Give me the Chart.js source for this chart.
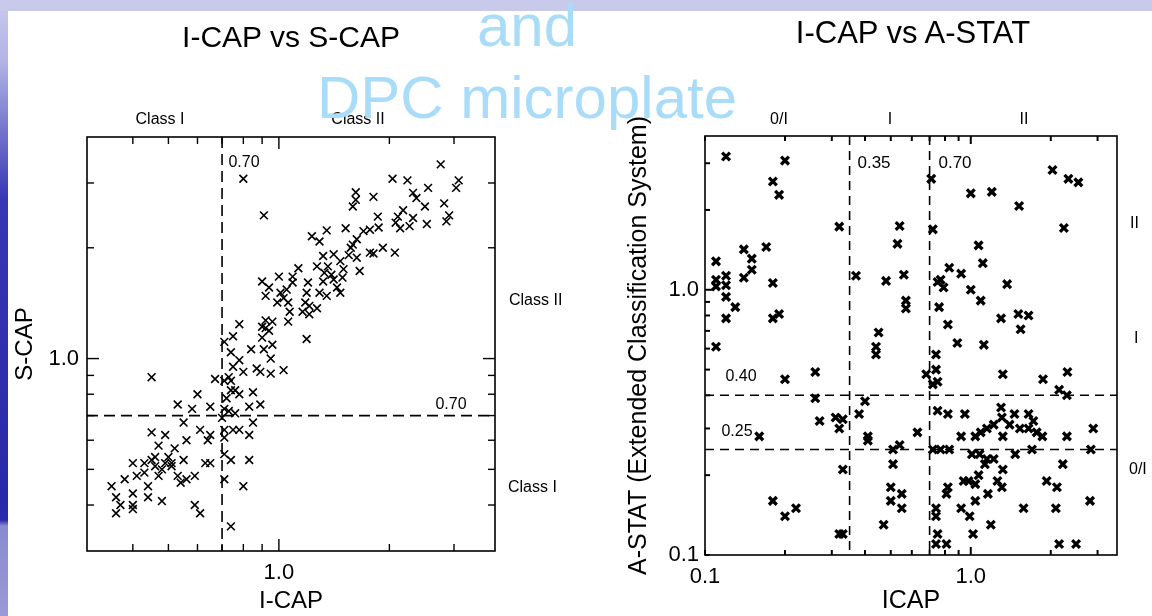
<!DOCTYPE html>
<html>
<head>
<meta charset="utf-8">
<script src="https://cdn.jsdelivr.net/npm/chart.js"></script>
<style>
html, body { margin: 0; padding: 0; }
body { width: 1152px; height: 616px; position: relative; overflow: hidden; background: #fff;
  font-family: "Liberation Sans", Arial, sans-serif; color: #000; }
#band { position: absolute; left: 0; top: 0; width: 1152px; height: 11px; background: #c9c9ec; z-index: 2; }
#strip { position: absolute; left: 0; top: 0; width: 8px; height: 616px; z-index: 1;
  background: linear-gradient(to bottom, #c8c8ee 0px, #b4b4e6 60px, #3636b6 200px, #2828aa 500px, #2a2aac 520px, #8a8ad0 526px, #9a9ad6 616px); }
.panel { position: absolute; top: 0; width: 576px; height: 616px; }
.t { position: absolute; white-space: nowrap; line-height: 1; transform: translate(-50%, -50%); }
.r { position: absolute; white-space: nowrap; line-height: 1; transform: translate(0, -50%); }
.title { font-size: 30px; }
.small { font-size: 16px; }
.over { position: absolute; white-space: nowrap; line-height: 1; transform: translate(-50%, -50%);
  font-size: 60px; color: #a9dcf8; z-index: 5; }
</style>
</head>
<body>
<div id="strip"></div>
<div id="band"></div>

<div class="panel" style="left:0"><canvas id="left" width="576" height="616"></canvas></div>
<div class="panel" style="left:576px"><canvas id="right" width="576" height="616"></canvas></div>

<div class="t title" style="left:291px;top:37px">I-CAP vs S-CAP</div>
<div class="t title" style="left:913px;top:32px;font-size:31px">I-CAP vs A-STAT</div>

<div class="t small" style="left:160px;top:119px">Class I</div>
<div class="t small" style="left:358px;top:119px">Class II</div>
<div class="t small" style="left:244px;top:162px">0.70</div>
<div class="t small" style="left:451px;top:404px">0.70</div>
<div class="r small" style="left:509px;top:300px">Class II</div>
<div class="r small" style="left:508px;top:487px">Class I</div>

<div class="t small" style="left:779px;top:119px">0/I</div>
<div class="t small" style="left:890px;top:119px">I</div>
<div class="t small" style="left:1024px;top:119px">II</div>
<div class="t small" style="left:874px;top:162px;font-size:17px">0.35</div>
<div class="t small" style="left:955px;top:162px;font-size:17px">0.70</div>
<div class="t small" style="left:741px;top:376px">0.40</div>
<div class="t small" style="left:737px;top:431px">0.25</div>
<div class="r small" style="left:1130px;top:223px">II</div>
<div class="r small" style="left:1134px;top:338px">I</div>
<div class="r small" style="left:1129px;top:469px">0/I</div>

<div class="over" style="left:527px;top:26px">and</div>
<div class="over" style="left:527px;top:98px">DPC microplate</div>

<script>
// I-CAP vs S-CAP
var leftIcap = [0.80,0.91,2.76,2.04,2.24,3.09,3.04,2.55,2.32,2.37,1.62,1.62,1.59,1.81,2.50,2.82,1.86,2.18,2.11,2.32,
  2.91,2.86,2.08,2.14,2.27,2.53,1.77,1.87,1.70,1.52,1.35,1.23,1.29,1.63,1.59,1.57,1.81,1.92,2.07,1.77,
  1.55,1.63,1.66,1.32,1.41,1.47,1.27,1.36,1.33,1.39,1.50,1.49,1.13,1.09,1.00,0.90,0.94,0.92,1.01,1.05,
  1.03,0.99,1.06,1.09,1.20,1.19,1.29,1.32,1.41,1.44,1.47,1.35,1.18,1.21,1.16,1.27,1.21,1.07,1.06,0.96,
  0.92,0.92,0.94,0.90,0.78,0.75,0.71,0.90,1.19,
  0.74,0.84,0.91,0.96,0.95,0.78,0.75,0.80,0.87,0.89,0.95,1.03,0.45,0.67,0.71,0.73,0.74,0.60,0.74,0.76,
  0.78,0.72,0.85,0.89,0.83,0.53,0.58,0.65,0.71,0.73,0.76,0.70,0.55,0.71,0.75,0.78,0.85,0.83,0.45,0.49,
  0.56,0.61,0.65,0.64,0.71,0.47,0.46,0.43,0.45,0.50,0.52,0.49,0.51,0.48,0.51,0.55,0.53,0.54,0.56,0.59,
  0.63,0.65,0.71,0.74,0.83,0.71,0.80,0.74,0.40,0.43,0.41,0.38,0.35,0.44,0.36,0.40,0.37,0.36,0.40,0.40,
  0.44,0.48,0.59,0.61,0.46,0.47];
var leftScap = [3.08,2.45,3.37,3.08,3.05,3.05,2.91,2.91,2.82,2.73,2.83,2.70,2.59,2.75,2.59,2.64,2.43,2.53,2.43,2.41,
  2.45,2.36,2.34,2.26,2.29,2.32,2.24,2.27,2.22,2.26,2.23,2.15,2.08,2.11,2.04,2.00,1.93,2.00,1.94,1.94,
  1.91,1.88,1.73,1.90,1.92,1.84,1.78,1.78,1.71,1.69,1.75,1.66,1.76,1.67,1.67,1.62,1.56,1.48,1.51,1.54,
  1.46,1.42,1.42,1.61,1.61,1.51,1.51,1.62,1.64,1.56,1.51,1.48,1.42,1.39,1.34,1.37,1.32,1.34,1.26,1.26,
  1.27,1.21,1.19,1.22,1.24,1.15,1.11,1.14,1.13,
  1.04,1.06,1.06,1.09,1.00,0.99,0.95,0.92,0.94,0.92,0.91,0.93,0.89,0.88,0.87,0.89,0.87,0.80,0.82,0.82,
  0.80,0.78,0.81,0.75,0.74,0.75,0.73,0.74,0.73,0.72,0.71,0.69,0.67,0.64,0.64,0.64,0.67,0.62,0.63,0.62,
  0.60,0.64,0.62,0.60,0.61,0.58,0.54,0.52,0.53,0.54,0.57,0.52,0.51,0.50,0.52,0.53,0.48,0.46,0.47,0.48,
  0.52,0.52,0.55,0.53,0.53,0.47,0.45,0.35,0.52,0.49,0.48,0.47,0.45,0.45,0.42,0.43,0.40,0.38,0.40,0.39,
  0.42,0.41,0.40,0.38,0.51,0.48];

// I-CAP vs A-STAT
var rightIcap = [0.12,0.20,0.18,0.19,0.32,0.54,0.53,0.14,0.17,0.15,0.11,0.15,0.14,0.12,0.12,0.11,0.11,0.12,0.13,0.12,
  0.18,0.18,0.19,0.37,0.48,0.56,0.57,0.57,0.45,2.03,2.33,2.54,1.00,1.20,1.52,2.24,1.07,1.11,0.83,0.92,
  0.75,0.79,0.77,1.00,1.09,1.37,1.30,1.51,1.65,1.54,0.76,0.82,0.72,0.71,
  0.11,0.44,0.44,0.74,0.89,1.12,0.26,0.20,0.68,0.74,0.75,0.72,1.32,1.87,2.31,2.15,2.30,0.26,0.40,0.31,
  0.33,0.38,0.27,0.32,0.16,0.41,0.41,0.63,0.75,0.82,0.95,1.30,1.46,1.65,1.72,1.31,1.22,1.15,1.09,1.04,
  0.92,1.32,1.40,1.53,1.65,1.77,1.86,2.30,2.89,0.51,0.54,0.51,0.72,0.77,0.83,1.01,1.08,1.15,1.22,1.13,
  1.47,1.70,2.83,0.33,2.22,1.32,0.50,0.55,0.50,0.55,0.47,0.94,0.98,1.04,1.07,1.26,1.31,1.16,0.82,0.81,
  1.04,0.92,0.99,1.19,1.58,1.93,2.11,2.09,2.81,0.74,0.74,0.75,0.74,0.81,1.02,0.32,0.33,0.18,0.20,0.22,
  2.15,2.49];
var rightAstat = [3.18,3.07,2.56,2.28,1.73,1.74,1.49,1.42,1.45,1.31,1.28,1.19,1.11,1.13,1.04,1.09,1.03,0.94,0.86,0.78,
  1.06,0.78,0.81,1.13,1.08,1.14,0.91,0.85,0.69,2.83,2.62,2.54,2.31,2.34,2.07,1.71,1.47,1.26,1.21,1.15,
  1.07,1.02,1.09,1.00,0.91,1.05,0.78,0.81,0.80,0.71,0.86,0.74,1.69,2.62,
  0.61,0.61,0.57,0.57,0.63,0.62,0.49,0.46,0.48,0.50,0.45,0.44,0.48,0.46,0.49,0.42,0.40,0.39,0.38,0.33,
  0.325,0.34,0.32,0.30,0.28,0.28,0.27,0.29,0.35,0.34,0.34,0.36,0.34,0.34,0.32,0.33,0.31,0.30,0.29,0.28,
  0.28,0.28,0.31,0.30,0.30,0.29,0.28,0.28,0.30,0.25,0.26,0.22,0.25,0.25,0.25,0.24,0.24,0.23,0.23,0.22,
  0.24,0.25,0.25,0.21,0.22,0.21,0.18,0.17,0.16,0.15,0.13,0.19,0.19,0.185,0.20,0.19,0.18,0.17,0.18,0.17,
  0.16,0.15,0.14,0.13,0.15,0.19,0.18,0.15,0.16,0.15,0.14,0.12,0.11,0.11,0.12,0.12,0.12,0.16,0.14,0.15,
  0.11,0.11];

// axis ticks (log scales) and the ones that carry a label
var leftTicks = [0.4, 0.5, 0.6, 0.7, 0.8, 0.9, 1, 2, 3];
var leftTickLabels = [1];
var rightTicks = [0.1, 0.2, 0.3, 0.4, 0.5, 0.6, 0.7, 0.8, 0.9, 1, 2, 3];
var rightTickLabels = [0.1, 1];

// cut-off lines
var leftCutX = [0.7];
var leftCutY = [0.7];
var rightCutX = [0.35, 0.7];
var rightCutY = [0.25, 0.4];

var FONT = '"Liberation Sans", Arial, sans-serif';

// dashed cut-offs, box and inside tick marks
var framePlugin = {
  id: 'frame',
  beforeDatasetsDraw: function(chart, args, o) {
    var ctx = chart.ctx, a = chart.chartArea, x = chart.scales.x, y = chart.scales.y;
    function seg(x1, y1, x2, y2) { ctx.beginPath(); ctx.moveTo(x1, y1); ctx.lineTo(x2, y2); ctx.stroke(); }
    ctx.save();
    ctx.strokeStyle = '#000';
    ctx.lineWidth = o.dashWidth;
    ctx.setLineDash(o.dash);
    o.cutX.forEach(function(v) { var p = x.getPixelForValue(v); seg(p, a.top, p, a.bottom); });
    o.cutY.forEach(function(v) { var p = y.getPixelForValue(v); seg(a.left, p, a.right, p); });
    ctx.setLineDash([]);
    ctx.lineWidth = o.frameWidth;
    ctx.strokeRect(a.left, a.top, a.right - a.left, a.bottom - a.top);
    ctx.lineWidth = o.tickWidth;
    x.ticks.forEach(function(t) {
      var p = x.getPixelForValue(t.value), len = t.value === 1 ? o.major : o.minor;
      if (o.sides.indexOf('top') >= 0) seg(p, a.top, p, a.top + len);
      if (o.sides.indexOf('bottom') >= 0) seg(p, a.bottom, p, a.bottom - len);
    });
    y.ticks.forEach(function(t) {
      var p = y.getPixelForValue(t.value), len = t.value === 1 ? o.major : o.minor;
      if (o.sides.indexOf('left') >= 0) seg(a.left, p, a.left + len, p);
      if (o.sides.indexOf('right') >= 0) seg(a.right, p, a.right - len, p);
    });
    ctx.restore();
  }
};

function logAxis(min, max, ticks, labels, size, pad, title, titleSize, titlePad) {
  return {
    type: 'logarithmic',
    min: min,
    max: max,
    afterBuildTicks: function(s) { s.ticks = ticks.map(function(v) { return { value: v }; }); },
    afterFit: function(s) { if (s.isHorizontal()) s.height = size; else s.width = size; },
    ticks: {
      autoSkip: false, maxRotation: 0, padding: pad, color: '#000',
      font: { family: FONT, size: 22 },
      callback: function(v) { return labels.indexOf(v) >= 0 ? v.toFixed(1) : ''; }
    },
    grid: { display: false, drawTicks: false },
    border: { display: false },
    title: { display: true, text: title, color: '#000', font: { family: FONT, size: titleSize }, padding: titlePad }
  };
}

function pairs(xs, ys) { return xs.map(function(v, i) { return { x: v, y: ys[i] }; }); }

new Chart(document.getElementById('left'), {
  type: 'scatter',
  data: { datasets: [{
    data: pairs(leftIcap, leftScap),
    pointStyle: 'crossRot', pointRadius: 5.5, pointBorderWidth: 1.6,
    borderColor: '#000', backgroundColor: '#000'
  }] },
  options: {
    responsive: false, animation: false,
    layout: { padding: { top: 137, right: 81, left: 0, bottom: 0 } },
    plugins: {
      legend: { display: false }, tooltip: { enabled: false },
      frame: { cutX: leftCutX, cutY: leftCutY, dash: [11, 6], dashWidth: 1.6, frameWidth: 1.6, tickWidth: 1.4,
        minor: 7, major: 12, sides: ['top', 'bottom', 'left', 'right'] }
    },
    scales: {
      x: logAxis(0.3, 3.88, leftTicks, leftTickLabels, 65, 9, 'I-CAP', 24, { top: 0, bottom: 0 }),
      y: logAxis(0.3, 4.0, leftTicks, leftTickLabels, 87, 8, 'S-CAP', 24, { top: 11, bottom: 0 })
    }
  },
  plugins: [framePlugin]
});

new Chart(document.getElementById('right'), {
  type: 'scatter',
  data: { datasets: [{
    data: pairs(rightIcap, rightAstat),
    pointStyle: 'crossRot', pointRadius: 5.5, pointBorderWidth: 3.3,
    borderColor: '#000', backgroundColor: '#000'
  }] },
  options: {
    responsive: false, animation: false,
    layout: { padding: { top: 136, right: 35, left: 0, bottom: 0 } },
    plugins: {
      legend: { display: false }, tooltip: { enabled: false },
      frame: { cutX: rightCutX, cutY: rightCutY, dash: [9, 6], dashWidth: 1.6, frameWidth: 1.6, tickWidth: 2,
        minor: 5, major: 8, sides: ['top', 'bottom', 'left'] }
    },
    scales: {
      x: logAxis(0.1, 3.55, rightTicks, rightTickLabels, 61, 9, 'ICAP', 25, { top: 0, bottom: 0 }),
      y: logAxis(0.1, 3.8, rightTicks, rightTickLabels, 129, 6, 'A-STAT (Extended Classification System)', 25, { top: 48, bottom: 0 })
    }
  },
  plugins: [framePlugin]
});
</script>
</body>
</html>
